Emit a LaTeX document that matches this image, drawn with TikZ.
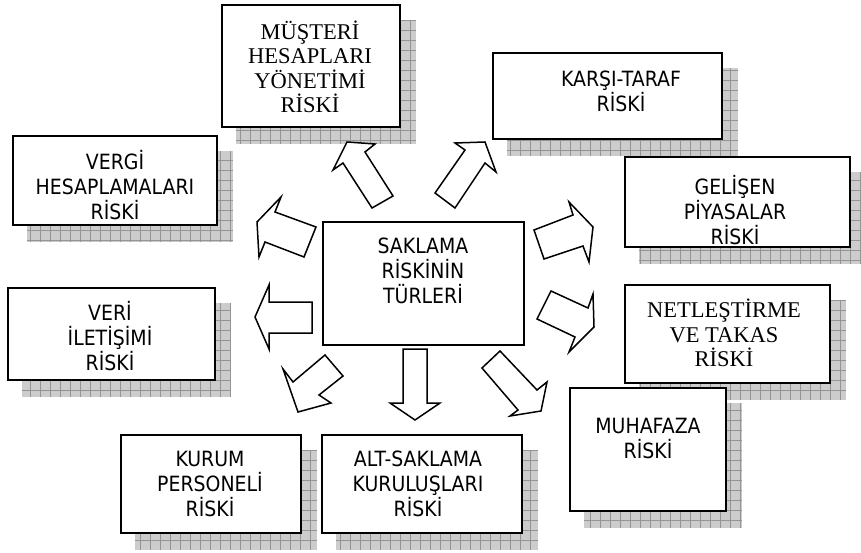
\documentclass[tikz,border=0pt]{standalone}
\usepackage{fontspec}
\newfontfamily\sansfam[FakeStretch=0.9]{DejaVu Sans}
\newfontfamily\seriffam{Liberation Serif}
\usetikzlibrary{backgrounds}
\begin{document}
\begin{tikzpicture}[x=1pt,y=-1pt,
  box/.style={draw=black, line width=1.6pt, fill=white, rectangle, inner sep=0pt},
  sanstxt/.style={align=center, inner sep=0pt, font=\sansfam\fontsize{21}{25}\selectfont},
  seriftxt/.style={align=center, inner sep=0pt, font=\seriffam\fontsize{22.5}{24.5}\selectfont},
  barrow/.style={draw=black, fill=white, line width=1.5pt, line join=miter},
  shadefill/.style={fill=black!20},
  shadegrid/.style={draw=black!42, line width=0.5pt}
]
\useasboundingbox (0,0) rectangle (861,553);

% ---- boxes ----
\node[box, minimum width=178pt, minimum height=122pt] (mus) at (311,66) {};
\node[box, minimum width=229pt, minimum height=86pt]  (kar) at (607.5,96) {};
\node[box, minimum width=204pt, minimum height=89pt]  (ver) at (115,180.5) {};
\node[box, minimum width=225pt, minimum height=90pt]  (gel) at (737.5,202) {};
\node[box, line width=1.2pt, minimum width=201pt, minimum height=123pt] (cen) at (423.5,283.5) {};
\node[box, minimum width=205pt, minimum height=98pt]  (net) at (727.5,334) {};
\node[box, minimum width=207pt, minimum height=92pt]  (vri) at (111.5,334) {};
\node[box, minimum width=180pt, minimum height=98pt]  (kur) at (211,484) {};
\node[box, minimum width=200pt, minimum height=98pt]  (alt) at (422,484) {};
\node[box, minimum width=156pt, minimum height=123pt] (muh) at (648,449.5) {};

% ---- box texts ----
\node[seriftxt] (musT) at (310,67) {MÜŞTERİ\\HESAPLARI\\YÖNETİMİ\\RİSKİ};
\node[sanstxt]  (karT) at (621,91) {KARŞI-TARAF\\RİSKİ};
\node[sanstxt]  (verT) at (115,185) {VERGİ\\HESAPLAMALARI\\RİSKİ};
\node[sanstxt]  (gelT) at (735,210) {GELİŞEN\\PİYASALAR\\RİSKİ};
\node[sanstxt]  (cenT) at (423,271) {SAKLAMA\\RİSKİNİN\\TÜRLERİ};
\node[seriftxt] (netT) at (724,333) {NETLEŞTİRME\\VE TAKAS\\RİSKİ};
\node[sanstxt]  (vriT) at (110,336) {VERİ\\İLETİŞİMİ\\RİSKİ};
\node[sanstxt]  (kurT) at (210,484) {KURUM\\PERSONELİ\\RİSKİ};
\node[sanstxt]  (altT) at (418,484) {ALT-SAKLAMA\\KURULUŞLARI\\RİSKİ};
\node[sanstxt]  (muhT) at (648,438) {MUHAFAZA\\RİSKİ};

% ---- hatched drop shadows behind the boxes ----
\begin{pgfonlayer}{background}
\foreach \n in {mus,kar,ver,gel,net,vri,kur,alt,muh}{
  \begin{scope}
    \clip ([shift={(15,16)}]\n.north west) rectangle ([shift={(15,16)}]\n.south east);
    \fill[shadefill] ([shift={(15,16)}]\n.north west) rectangle ([shift={(15,16)}]\n.south east);
    \draw[shadegrid, step=10pt] ([shift={(10,10)}]\n.north west) grid ([shift={(20,20)}]\n.south east);
  \end{scope}
}
\end{pgfonlayer}

% ---- block arrows radiating from the centre box ----
% towards MÜŞTERİ
\draw[barrow] (347,142) -- (375,144) -- (365,152) -- (393,196) -- (372,208) -- (343,163) -- (333,170) -- cycle;
% towards KARŞI-TARAF
\draw[barrow] (485,142) -- (496,172) -- (485,163) -- (455,208) -- (435,193) -- (465,150) -- (455,143) -- cycle;
% towards VERGİ
\draw[barrow] (257,222) -- (281,197) -- (275,212) -- (316,227) -- (304,257) -- (265,242) -- (259,257) -- cycle;
% towards VERİ
\draw[barrow] (255,317) -- (269,285) -- (269,302) -- (312,302) -- (312,333) -- (269,333) -- (269,349) -- cycle;
% towards KURUM
\draw[barrow] (325,355) -- (293,382) -- (283,369) -- (298,412) -- (331,403) -- (319,395) -- (343,376) -- cycle;
% towards ALT-SAKLAMA
\draw[barrow] (403,349) -- (427,349) -- (427,403) -- (440,403) -- (415,420) -- (390,403) -- (403,403) -- cycle;
% towards MUHAFAZA
\draw[barrow] (482,368) -- (500,351) -- (537,390) -- (547,382) -- (541,411) -- (510,416) -- (518,410) -- cycle;
% towards GELİŞEN
\draw[barrow] (534,230) -- (573,215) -- (569,202) -- (593,227) -- (589,262) -- (583,246) -- (544,259) -- cycle;
% towards NETLEŞTİRME
\draw[barrow] (551,291) -- (588,308) -- (593,294) -- (594,327) -- (569,352) -- (575,337) -- (537,319) -- cycle;
\end{tikzpicture}
\end{document}
